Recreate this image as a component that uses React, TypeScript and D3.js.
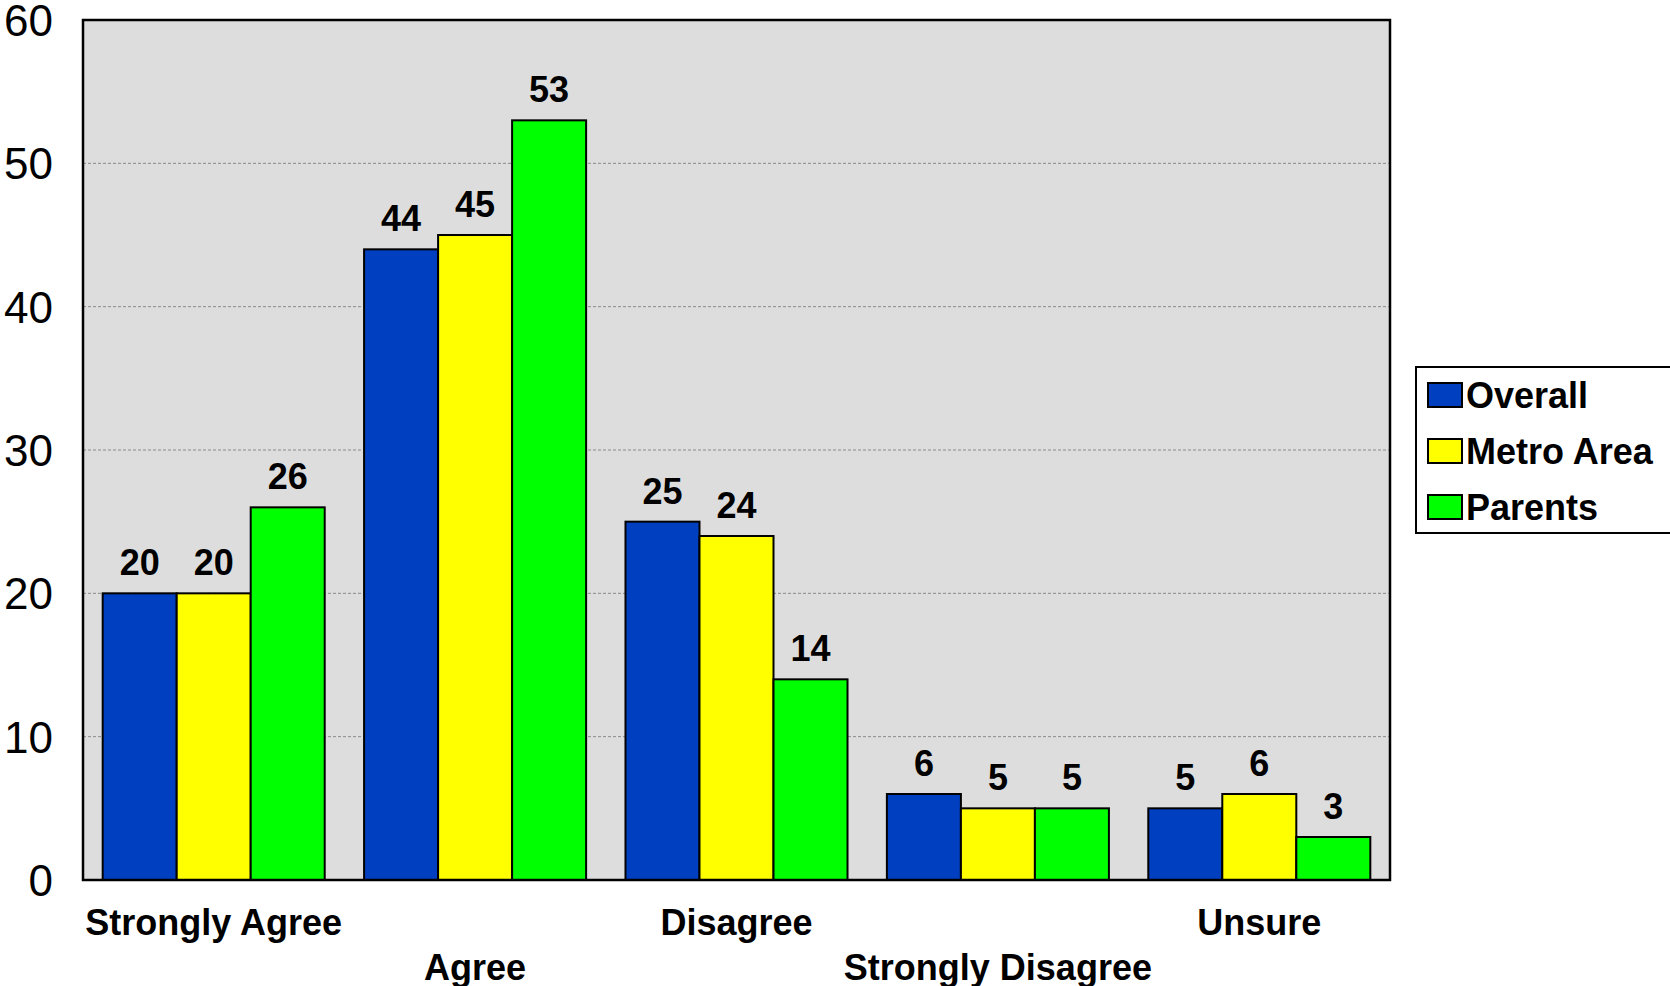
import React from "react";
import * as d3 from "d3";

const categories = ["Strongly Agree", "Agree", "Disagree", "Strongly Disagree", "Unsure"];
const seriesNames = ["Overall", "Metro Area", "Parents"];
const overall = [20, 44, 25, 6, 5];
const metro = [20, 45, 24, 5, 6];
const parents = [26, 53, 14, 5, 3];
const yTicks = [0, 10, 20, 30, 40, 50, 60];
const colors = ["#0040C0", "#FFFF00", "#00FF00"];

const W = 1670;
const H = 986;
const plot = { left: 83, right: 1390, top: 20, bottom: 880 };

export default function App() {
  const values = [overall, metro, parents];
  const x0 = d3.scaleBand<string>().domain(categories).range([plot.left, plot.right]).padding(0);
  const x1 = d3
    .scaleBand<string>()
    .domain(seriesNames)
    .range([0, x0.bandwidth()])
    .paddingInner(0)
    .paddingOuter(0.266);
  const y = d3.scaleLinear().domain([0, 60]).range([plot.bottom, plot.top]);
  const font = "Arial, 'Liberation Sans', Helvetica, sans-serif";

  return (
    <svg
      width={W}
      height={H}
      style={{ position: "absolute", left: 0, top: 0, background: "#fff" }}
      fontFamily={font}
    >
      <rect
        x={plot.left}
        y={plot.top}
        width={plot.right - plot.left}
        height={plot.bottom - plot.top}
        fill="#DDDDDD"
      />
      {yTicks
        .filter((t) => t > 0 && t < 60)
        .map((t) => (
          <line
            key={"g" + t}
            x1={plot.left}
            x2={plot.right}
            y1={y(t)}
            y2={y(t)}
            stroke="#8a8a8a"
            strokeWidth={1}
            strokeDasharray="3,2"
          />
        ))}
      {yTicks.map((t) => (
        <text
          key={"t" + t}
          x={53}
          y={y(t)}
          dy="0.36em"
          textAnchor="end"
          fontSize={44}
          fill="#000"
        >
          {t}
        </text>
      ))}
      {categories.map((c, ci) =>
        seriesNames.map((s, si) => {
          const v = values[si][ci];
          const bx = (x0(c) as number) + (x1(s) as number);
          return (
            <g key={c + s}>
              <rect
                x={bx}
                y={y(v)}
                width={x1.bandwidth()}
                height={plot.bottom - y(v)}
                fill={colors[si]}
                stroke="#000"
                strokeWidth={2}
              />
              <text
                x={bx + x1.bandwidth() / 2}
                y={y(v) - 18}
                textAnchor="middle"
                fontSize={36}
                fontWeight="bold"
                fill="#000"
              >
                {v}
              </text>
            </g>
          );
        })
      )}
      <rect
        x={plot.left}
        y={plot.top}
        width={plot.right - plot.left}
        height={plot.bottom - plot.top}
        fill="none"
        stroke="#000"
        strokeWidth={2.5}
      />
      {categories.map((c, ci) => (
        <text
          key={"c" + c}
          x={(x0(c) as number) + x0.bandwidth() / 2}
          y={ci % 2 === 0 ? 935 : 980}
          textAnchor="middle"
          fontSize={36}
          fontWeight="bold"
          fill="#000"
        >
          {c}
        </text>
      ))}
      <rect x={1416} y={367} width={270} height={166} fill="#fff" stroke="#000" strokeWidth={2} />
      {seriesNames.map((s, si) => (
        <g key={"l" + s}>
          <rect
            x={1428}
            y={395 + si * 56 - 12}
            width={34}
            height={24}
            fill={colors[si]}
            stroke="#000"
            strokeWidth={2}
          />
          <text
            x={1466}
            y={395 + si * 56}
            dy="0.36em"
            fontSize={36}
            fontWeight="bold"
            fill="#000"
          >
            {s}
          </text>
        </g>
      ))}
    </svg>
  );
}
